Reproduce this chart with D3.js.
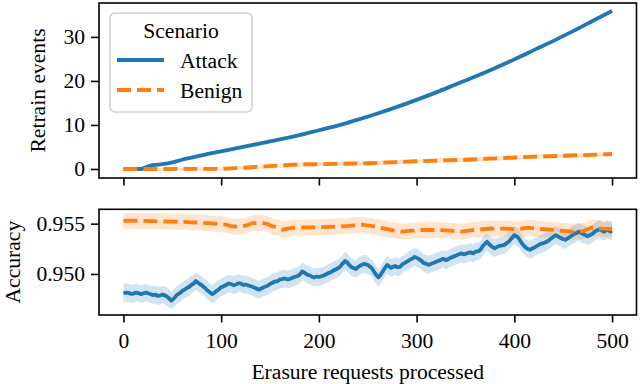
<!DOCTYPE html>
<html>
<head>
<meta charset="utf-8">
<script src="https://cdn.jsdelivr.net/npm/d3@7"></script>
<style>
  body { margin: 0; background: #fff; }
  svg text { font-family: "Liberation Serif", "Tinos", "Times New Roman", "Times", "Nimbus Roman", "DejaVu Serif", serif; }
</style>
</head>
<body>
<div id="chart"></div>
<script>
// ---- data ----
const xTicks = [0, 100, 200, 300, 400, 500];
const retrainTicks = [0, 10, 20, 30];
const accTicks = [0.950, 0.955];
const scenarios = ["Attack", "Benign"];

// retrain events: [request, mean, half-width of band]
const attackRetrain = [
  [0, 0, 0], [10, 0, 0], [18, 0, 0.05], [24, 0.5, 0.1], [30, 0.85, 0.1], [40, 1.1, 0.1],
  [50, 1.5, 0.12], [60, 2.1, 0.12], [80, 3.1, 0.15], [100, 4.0, 0.15], [120, 4.9, 0.15],
  [140, 5.8, 0.15], [160, 6.7, 0.18], [180, 7.7, 0.18], [200, 8.8, 0.2], [220, 9.9, 0.2],
  [240, 11.2, 0.2], [260, 12.6, 0.2], [280, 14.1, 0.22], [300, 15.7, 0.22], [320, 17.4, 0.22],
  [340, 19.2, 0.25], [360, 21.0, 0.25], [380, 22.9, 0.25], [400, 24.9, 0.25], [420, 27.0, 0.28],
  [440, 29.1, 0.28], [460, 31.3, 0.3], [480, 33.6, 0.3], [500, 35.9, 0.3]
];
const benignRetrain = [
  [0, 0, 0.35], [50, 0, 0.35], [100, 0.05, 0.4], [120, 0.25, 0.45], [140, 0.5, 0.45],
  [160, 0.8, 0.5], [180, 1.0, 0.5], [200, 1.1, 0.5], [250, 1.3, 0.5], [300, 1.75, 0.5],
  [350, 2.1, 0.5], [400, 2.6, 0.5], [450, 3.0, 0.5], [500, 3.4, 0.5]
];

// accuracy: [request, mean, half-width of band]
const attackAcc = [
  [0, 0.94808, 0.0009], [3, 0.94815, 0.00092], [5, 0.94812, 0.00088], [8, 0.94802, 0.0009], [10, 0.94805, 0.0009],
  [13, 0.94814, 0.00087], [15, 0.9481, 0.00085], [18, 0.948, 0.0009], [20, 0.94806, 0.00088], [23, 0.94815, 0.0009],
  [25, 0.94808, 0.0009], [28, 0.94798, 0.00086], [30, 0.9479, 0.00087], [33, 0.94795, 0.0009], [35, 0.94782, 0.0009],
  [38, 0.94788, 0.00088], [40, 0.94795, 0.00086], [43, 0.94785, 0.0009], [45, 0.9477, 0.0009], [47, 0.94755, 0.00087],
  [49, 0.94735, 0.00088], [52, 0.9476, 0.0009], [54, 0.94785, 0.00088], [56, 0.948, 0.00087], [58, 0.94812, 0.0009],
  [60, 0.9483, 0.0009], [62, 0.9484, 0.00086], [65, 0.9486, 0.00088], [67, 0.9487, 0.0009], [70, 0.94895, 0.0009],
  [72, 0.94905, 0.00088], [74, 0.9493, 0.00086], [76, 0.94915, 0.0009], [78, 0.949, 0.0009], [80, 0.9489, 0.00087],
  [82, 0.9487, 0.00088], [84, 0.94855, 0.0009], [86, 0.94835, 0.0009], [88, 0.9482, 0.00088], [91, 0.948, 0.00087],
  [93, 0.94812, 0.0009], [95, 0.9483, 0.0009], [98, 0.9485, 0.00087], [100, 0.9487, 0.00088], [102, 0.94875, 0.0009],
  [105, 0.9489, 0.0009], [108, 0.94905, 0.00088], [110, 0.949, 0.00086], [113, 0.94888, 0.0009], [115, 0.94895, 0.0009],
  [118, 0.94908, 0.00087], [120, 0.94905, 0.00088], [123, 0.9489, 0.0009], [125, 0.94895, 0.0009], [128, 0.94885, 0.00088],
  [130, 0.9488, 0.00087], [133, 0.94868, 0.0009], [135, 0.9486, 0.0009], [137, 0.9485, 0.00088], [139, 0.94845, 0.00088],
  [141, 0.94855, 0.0009], [144, 0.9487, 0.0009], [147, 0.9488, 0.00088], [150, 0.949, 0.00086], [152, 0.9491, 0.0009],
  [155, 0.94925, 0.0009], [158, 0.9493, 0.00087], [160, 0.94945, 0.00088], [162, 0.94948, 0.0009], [165, 0.94955, 0.0009],
  [168, 0.94945, 0.00088], [170, 0.9495, 0.00087], [173, 0.94962, 0.0009], [175, 0.9497, 0.0009], [178, 0.94978, 0.00088],
  [180, 0.9499, 0.00088], [183, 0.95025, 0.0009], [185, 0.95015, 0.0009], [187, 0.95, 0.00086], [189, 0.9499, 0.0009],
  [191, 0.94985, 0.0009], [193, 0.94972, 0.00087], [195, 0.94965, 0.00088], [198, 0.94975, 0.0009], [200, 0.9497, 0.0009],
  [203, 0.94978, 0.00088], [205, 0.94985, 0.00087], [208, 0.95, 0.0009], [210, 0.9501, 0.0009], [213, 0.95022, 0.00088],
  [215, 0.95035, 0.00088], [218, 0.9505, 0.0009], [220, 0.9506, 0.0009], [222, 0.95075, 0.00087], [224, 0.951, 0.00086],
  [227, 0.9513, 0.0009], [229, 0.95115, 0.0009], [230, 0.951, 0.00088], [232, 0.9508, 0.0009], [234, 0.95065, 0.0009],
  [236, 0.95058, 0.00087], [238, 0.9505, 0.00087], [240, 0.95068, 0.0009], [242, 0.9508, 0.0009], [244, 0.95092, 0.00088],
  [246, 0.951, 0.00088], [248, 0.95095, 0.0009], [250, 0.9509, 0.0009], [252, 0.95075, 0.00087], [254, 0.9506, 0.00086],
  [256, 0.9503, 0.0009], [258, 0.95, 0.0009], [260, 0.94975, 0.00088], [261, 0.94965, 0.00088], [263, 0.9499, 0.0009],
  [265, 0.9502, 0.0009], [268, 0.95065, 0.00087], [270, 0.9509, 0.00087], [272, 0.95075, 0.0009], [274, 0.9506, 0.0009],
  [276, 0.95072, 0.00088], [278, 0.9508, 0.00088], [280, 0.95068, 0.0009], [283, 0.9507, 0.0009], [285, 0.95092, 0.00087],
  [288, 0.9511, 0.00086], [290, 0.95122, 0.0009], [293, 0.9514, 0.0009], [296, 0.95155, 0.00088], [298, 0.9517, 0.00088],
  [300, 0.9516, 0.0009], [302, 0.9515, 0.0009], [305, 0.9513, 0.00087], [307, 0.9511, 0.00087], [310, 0.951, 0.0009],
  [312, 0.9509, 0.0009], [315, 0.95102, 0.00088], [317, 0.9511, 0.00088], [320, 0.95122, 0.0009], [322, 0.9513, 0.0009],
  [325, 0.95142, 0.00087], [327, 0.9515, 0.00086], [330, 0.95138, 0.0009], [332, 0.95145, 0.0009], [335, 0.95162, 0.00088],
  [337, 0.9517, 0.00088], [340, 0.95182, 0.0009], [342, 0.9519, 0.0009], [344, 0.95198, 0.00087], [346, 0.95205, 0.00087],
  [348, 0.95195, 0.0009], [350, 0.952, 0.0009], [353, 0.95212, 0.00088], [355, 0.95215, 0.00088], [358, 0.95205, 0.0009],
  [360, 0.9522, 0.0009], [362, 0.95225, 0.00087], [364, 0.9523, 0.00086], [366, 0.9525, 0.0009], [368, 0.9528, 0.0009],
  [370, 0.953, 0.00088], [372, 0.9532, 0.00088], [374, 0.95298, 0.0009], [376, 0.9528, 0.0009], [378, 0.95265, 0.00087],
  [380, 0.95255, 0.00087], [382, 0.95268, 0.0009], [385, 0.9528, 0.0009], [388, 0.95285, 0.00088], [390, 0.9529, 0.00088],
  [393, 0.95312, 0.0009], [395, 0.9533, 0.0009], [398, 0.95362, 0.00087], [400, 0.95385, 0.00086], [402, 0.95375, 0.0009],
  [404, 0.9536, 0.0009], [406, 0.9533, 0.00088], [408, 0.953, 0.00088], [410, 0.9528, 0.0009], [412, 0.9526, 0.0009],
  [414, 0.95248, 0.00087], [416, 0.9524, 0.00087], [418, 0.95252, 0.0009], [420, 0.9526, 0.0009], [423, 0.95278, 0.00088],
  [425, 0.9529, 0.00088], [428, 0.95302, 0.0009], [431, 0.9531, 0.0009], [434, 0.95325, 0.00087], [436, 0.9534, 0.00086],
  [439, 0.95362, 0.0009], [442, 0.95385, 0.0009], [445, 0.95372, 0.00088], [447, 0.9536, 0.00088], [450, 0.95345, 0.0009],
  [452, 0.9534, 0.0009], [455, 0.95355, 0.00087], [457, 0.9537, 0.00087], [460, 0.95388, 0.0009], [462, 0.954, 0.0009],
  [464, 0.9541, 0.00088], [466, 0.9542, 0.00088], [468, 0.95408, 0.0009], [470, 0.954, 0.0009], [473, 0.95385, 0.00087],
  [475, 0.95375, 0.00086], [478, 0.9539, 0.0009], [480, 0.954, 0.0009], [482, 0.95418, 0.00088], [484, 0.9543, 0.00088],
  [486, 0.9544, 0.0009], [488, 0.95445, 0.0009], [490, 0.95428, 0.00087], [492, 0.9542, 0.00087], [494, 0.95435, 0.0009],
  [496, 0.95445, 0.0009], [498, 0.95422, 0.00088], [500, 0.9543, 0.00088]
];
const benignAcc = [
  [0, 0.95527, 0.0008], [10, 0.95529, 0.00078], [20, 0.95527, 0.0008], [30, 0.95525, 0.00079],
  [40, 0.95522, 0.0008], [50, 0.9552, 0.00078], [60, 0.95518, 0.0008], [70, 0.95514, 0.00079],
  [80, 0.9551, 0.0008], [90, 0.95503, 0.00078], [95, 0.955, 0.0008], [100, 0.95495, 0.00079],
  [105, 0.9549, 0.0008], [110, 0.95475, 0.00078], [115, 0.9547, 0.0008], [120, 0.95474, 0.00079],
  [125, 0.9548, 0.0008], [132, 0.95505, 0.00078], [142, 0.95508, 0.0008], [148, 0.95495, 0.00079],
  [152, 0.95475, 0.0008], [158, 0.9546, 0.00078], [163, 0.9544, 0.0008], [168, 0.9545, 0.00079],
  [175, 0.9546, 0.0008], [185, 0.95462, 0.00078], [200, 0.95465, 0.0008], [215, 0.9547, 0.00079],
  [230, 0.95478, 0.0008], [244, 0.9549, 0.00078], [255, 0.95475, 0.0008], [265, 0.95455, 0.00079],
  [275, 0.95435, 0.0008], [285, 0.95422, 0.00078], [295, 0.9543, 0.0008], [305, 0.95437, 0.00079],
  [320, 0.95437, 0.0008], [335, 0.9543, 0.00078], [346, 0.9542, 0.0008], [360, 0.9544, 0.00079],
  [377, 0.95452, 0.0008], [390, 0.9545, 0.00078], [404, 0.95445, 0.0008], [414, 0.9546, 0.00079],
  [425, 0.95448, 0.0008], [442, 0.95437, 0.00078], [458, 0.9542, 0.0008], [470, 0.95425, 0.00079],
  [479, 0.9546, 0.0008], [490, 0.9545, 0.00078], [500, 0.95447, 0.0008]
];

// ---- layout ----
const W = 640, H = 384;
const blue = "#1f77b4", orange = "#ff7f0e";
const fs = 21.6;
const lw = 3.8;
const dash = "14,6";
const serif = "'Liberation Serif', 'Tinos', 'Times New Roman', 'Times', 'Nimbus Roman', 'DejaVu Serif', serif";

const svg = d3.select("#chart").append("svg")
  .attr("width", W)
  .attr("height", H)
  .attr("font-family", serif);

const x = d3.scaleLinear().domain([-25, 525]).range([99, 636.5]);
const yTop = d3.scaleLinear().domain([-2.05, 37.7]).range([178, 3]);
const yBot = d3.scaleLinear().domain([0.94592, 0.95643]).range([315, 209.3]);

function panel(y, series, yTickVals, fmt, showXLabels, curve) {
  const g = svg.append("g");

  // confidence bands
  series.forEach(s => {
    g.append("path")
      .datum(s.data)
      .attr("fill", s.color)
      .attr("fill-opacity", 0.2)
      .attr("d", d3.area()
        .curve(curve)
        .x(d => x(d[0]))
        .y0(d => y(d[1] - d[2]))
        .y1(d => y(d[1] + d[2])));
  });
  // mean lines
  series.forEach(s => {
    g.append("path")
      .datum(s.data)
      .attr("fill", "none")
      .attr("stroke", s.color)
      .attr("stroke-width", lw)
      .attr("stroke-dasharray", s.dashed ? dash : null)
      .attr("stroke-linejoin", "round")
      .attr("d", d3.line().curve(curve).x(d => x(d[0])).y(d => y(d[1])));
  });

  const [y0, y1] = y.range();

  const xa = g.append("g")
    .attr("transform", "translate(0," + y0 + ")")
    .call(d3.axisBottom(x).tickValues(xTicks).tickSize(7.5).tickSizeOuter(0).tickPadding(10.5)
      .tickFormat(showXLabels ? d3.format("d") : ""));
  const ya = g.append("g")
    .attr("transform", "translate(" + x.range()[0] + ",0)")
    .call(d3.axisLeft(y).tickValues(yTickVals).tickSize(8).tickSizeOuter(0).tickPadding(6)
      .tickFormat(fmt));

  [xa, ya].forEach(a => {
    a.attr("font-family", serif).attr("font-size", fs);
    a.select(".domain").remove();
    a.selectAll(".tick line").attr("stroke", "#000").attr("stroke-width", 1.6);
    a.selectAll(".tick text").attr("fill", "#000");
  });

  // frame
  g.append("rect")
    .attr("x", x.range()[0])
    .attr("y", y1)
    .attr("width", x.range()[1] - x.range()[0])
    .attr("height", y0 - y1)
    .attr("fill", "none")
    .attr("stroke", "#000")
    .attr("stroke-width", 1.6);
  return g;
}

panel(yTop, [
  { data: attackRetrain, color: blue, dashed: false },
  { data: benignRetrain, color: orange, dashed: true }
], retrainTicks, d3.format("d"), false, d3.curveMonotoneX);

panel(yBot, [
  { data: attackAcc, color: blue, dashed: false },
  { data: benignAcc, color: orange, dashed: true }
], accTicks, d3.format(".3f"), true, d3.curveLinear);

// axis titles
svg.append("text")
  .attr("transform", "translate(45," + ((yTop.range()[0] + yTop.range()[1]) / 2) + ") rotate(-90)")
  .attr("text-anchor", "middle")
  .attr("font-size", fs)
  .text("Retrain events");

svg.append("text")
  .attr("transform", "translate(19.5," + ((yBot.range()[0] + yBot.range()[1]) / 2) + ") rotate(-90)")
  .attr("text-anchor", "middle")
  .attr("font-size", fs)
  .text("Accuracy");

svg.append("text")
  .attr("x", (x.range()[0] + x.range()[1]) / 2)
  .attr("y", 379)
  .attr("text-anchor", "middle")
  .attr("font-size", fs)
  .text("Erasure requests processed");

// legend
const leg = svg.append("g").attr("transform", "translate(110,13)");
leg.append("rect")
  .attr("width", 142)
  .attr("height", 99)
  .attr("rx", 5)
  .attr("fill", "#fff")
  .attr("fill-opacity", 0.8)
  .attr("stroke", "#d0d0d0")
  .attr("stroke-width", 1.6);
leg.append("text")
  .attr("x", 71)
  .attr("y", 25)
  .attr("text-anchor", "middle")
  .attr("font-size", fs)
  .text("Scenario");
scenarios.forEach((name, i) => {
  const yy = 47 + i * 30;
  leg.append("line")
    .attr("x1", 7).attr("x2", 54)
    .attr("y1", yy).attr("y2", yy)
    .attr("stroke", i === 0 ? blue : orange)
    .attr("stroke-width", lw)
    .attr("stroke-dasharray", i === 0 ? null : dash);
  leg.append("text")
    .attr("x", 70)
    .attr("y", yy + 8)
    .attr("font-size", fs)
    .text(name);
});
</script>
</body>
</html>
